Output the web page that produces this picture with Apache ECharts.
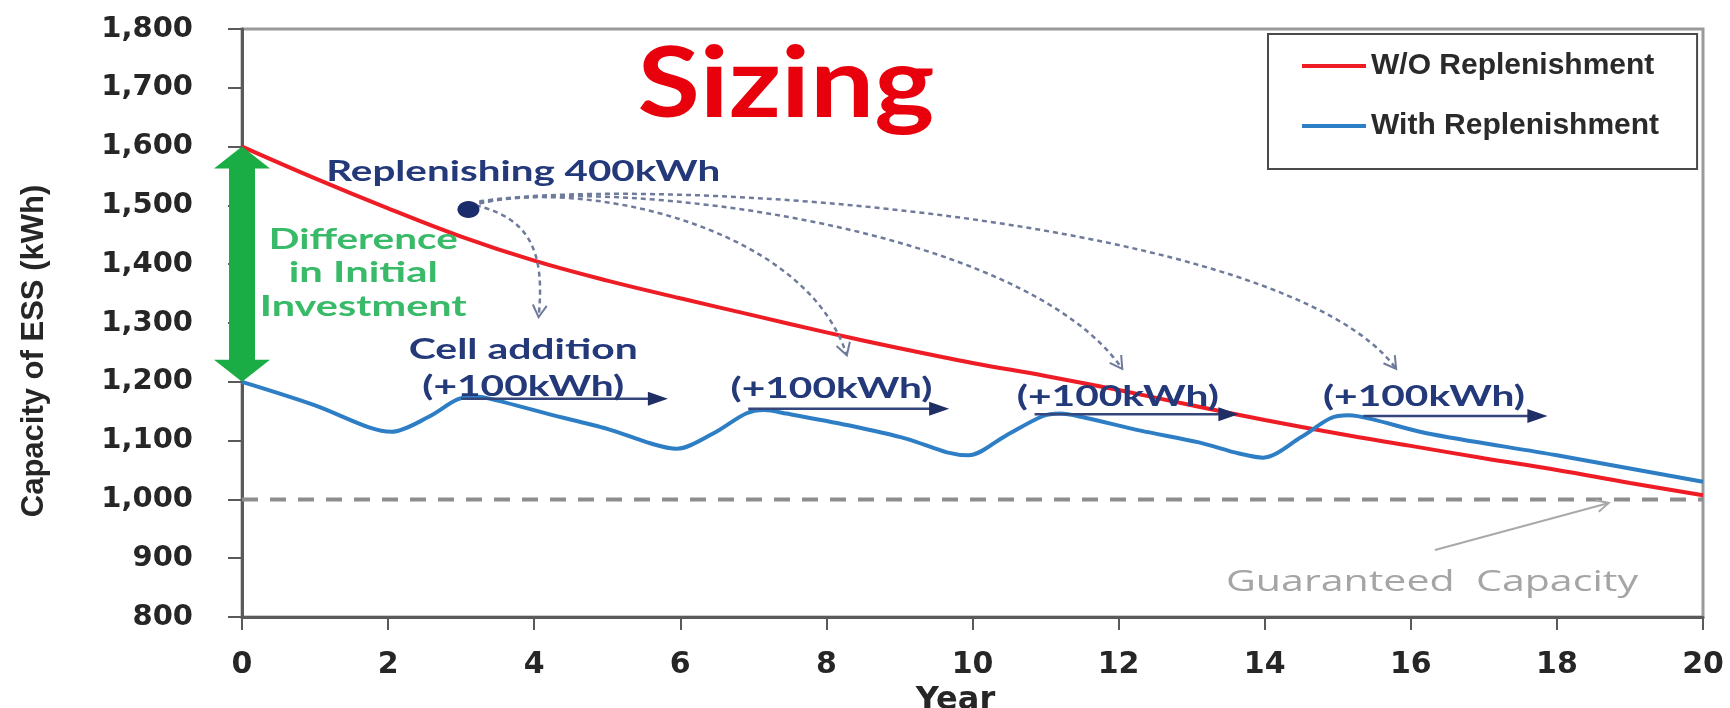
<!DOCTYPE html>
<html>
<head>
<meta charset="utf-8">
<script src="https://cdn.jsdelivr.net/npm/echarts@6/dist/echarts.min.js"></script>
<style>
html,body{margin:0;padding:0;background:#fff;}
#chart{width:1730px;height:708px;}
</style>
</head>
<body>
<div id="chart"></div>
<script>
// ---------------- data ----------------
const years = [0,1,2,3,4,5,6,7,8,9,10,11,12,13,14,15,16,17,18,19,20];
const woReplenishment = [1600,1546,1495,1447,1406,1372,1342,1313,1284,1257,1232,1210,1186,1160,1135,1112,1091,1070,1050,1028,1007];
const withYears = [0,1,1.75,2.05,2.55,2.95,3.2,3.5,4.2,5.0,5.6,5.95,6.45,6.9,7.15,7.45,8.3,9.1,9.65,9.95,10.45,10.95,11.2,11.5,12.3,13.1,13.65,13.98,14.5,14.9,15.15,15.45,16.2,18,20];
const withReplenishment = [1200,1160,1122,1115,1140,1170,1175,1168,1145,1120,1095,1086,1112,1146,1152,1146,1126,1103,1080,1075,1108,1141,1146,1140,1117,1097,1078,1071,1106,1138,1143,1137,1113,1075,1030];
const guaranteedCapacity = 1000;
const yRange = [800, 1800, 100];
const xRange = [0, 20, 2];
const seriesNames = ['W/O Replenishment', 'With Replenishment'];

// annotation anchors (data units)
const replenishDot = [3.1, 1493];
const replArrows = [
  {p0:[3.2,1500], c1:[3.95,1478], c2:[4.15,1420], p1:[4.06,1310]},
  {p0:[3.25,1503], c1:[4.6,1545], c2:[7.7,1470], p1:[8.28,1245]},
  {p0:[3.25,1505], c1:[5.2,1548], c2:[10.7,1465], p1:[12.05,1222]},
  {p0:[3.25,1507], c1:[5.8,1553], c2:[14.3,1478], p1:[15.8,1222]}
];
const addArrows = [
  {from:[3.0,1171], to:[5.83,1171]},
  {from:[6.93,1154], to:[9.68,1154]},
  {from:[10.85,1145], to:[13.64,1145]},
  {from:[15.35,1142], to:[17.87,1142]}
];
const guaranteedPointer = {from:[16.33,914], to:[18.71,994]};
const annoTexts = [
  {t:'Replenishing 400kWh', at:[3.85,1557], kind:'navy', w:394},
  {t:'Difference', at:[1.66,1441], kind:'green', w:189},
  {t:'in Initial', at:[1.66,1385], kind:'green', w:149},
  {t:'Investment', at:[1.66,1327], kind:'green', w:207},
  {t:'Cell addition', at:[3.85,1254], kind:'navy', w:229},
  {t:'(+100kWh)', at:[3.85,1192], kind:'navy', w:202},
  {t:'(+100kWh)', at:[8.07,1188], kind:'navy', w:202},
  {t:'(+100kWh)', at:[11.99,1174], kind:'navy', w:202},
  {t:'(+100kWh)', at:[16.18,1174], kind:'navy', w:202},
  {t:'Guaranteed  Capacity', at:[16.29,858], kind:'grey', w:412}
];

// ---------------- styles ----------------
const RED = '#ee1c25', BLUE = '#2e7ec5', NAVY = '#24397a', GREEN = '#1aad45';
const kindStyle = {
  navy:  {font:'bold 28px Lato', fill:NAVY},
  green: {font:'bold 28px Lato', fill:'#38ba68'},
  grey:  {font:'30px "Open Sans"', fill:'#a5a5a5'}
};
const measureCtx = document.createElement('canvas').getContext('2d');
function textWidth(t, font){ measureCtx.font = font; return measureCtx.measureText(t).width; }

function renderAnnotations(params, api){
  const C = p => api.coord(p);
  const ch = [];
  // green double arrow: difference in initial investment
  const t = C([0, woReplenishment[0]]), b = C([0, withReplenishment[0]]);
  const sw = 13, hw = 28, hl = 22, x = t[0];
  ch.push({type:'polygon', shape:{points:[
    [x, t[1]], [x+hw, t[1]+hl], [x+sw, t[1]+hl], [x+sw, b[1]-hl], [x+hw, b[1]-hl],
    [x, b[1]], [x-hw, b[1]-hl], [x-sw, b[1]-hl], [x-sw, t[1]+hl], [x-hw, t[1]+hl]
  ]}, style:{fill:GREEN}, z2:10});
  // dashed curved arrows
  replArrows.forEach(a => {
    const p0 = C(a.p0), c1 = C(a.c1), c2 = C(a.c2), p1 = C(a.p1);
    ch.push({type:'bezierCurve', shape:{x1:p0[0], y1:p0[1], cpx1:c1[0], cpy1:c1[1], cpx2:c2[0], cpy2:c2[1], x2:p1[0], y2:p1[1]},
      style:{stroke:'#6f7b9b', lineWidth:2.5, lineDash:[5,4], fill:null}});
    let dx = p1[0]-c2[0], dy = p1[1]-c2[1]; const n = Math.hypot(dx,dy); dx/=n; dy/=n;
    const L = 12, W = 7;
    ch.push({type:'polyline', shape:{points:[
      [p1[0]-L*dx-W*dy, p1[1]-L*dy+W*dx], [p1[0], p1[1]], [p1[0]-L*dx+W*dy, p1[1]-L*dy-W*dx]
    ]}, style:{stroke:'#6f7b9b', lineWidth:2, fill:null}});
  });
  // replenish dot
  const d = C(replenishDot);
  ch.push({type:'ellipse', shape:{cx:d[0], cy:d[1], rx:11, ry:8.5}, style:{fill:'#1b2d6b'}});
  // horizontal cell addition arrows
  addArrows.forEach(a => {
    const f = C(a.from), e = C(a.to);
    ch.push({type:'line', shape:{x1:f[0], y1:f[1], x2:e[0]-10, y2:e[1]}, style:{stroke:'#34467c', lineWidth:2.5}});
    ch.push({type:'polygon', shape:{points:[[e[0], e[1]], [e[0]-20, e[1]-7], [e[0]-20, e[1]+7]]}, style:{fill:'#1f2f66'}});
  });
  // guaranteed capacity pointer
  const gf = C(guaranteedPointer.from), ge = C(guaranteedPointer.to);
  ch.push({type:'line', shape:{x1:gf[0], y1:gf[1], x2:ge[0], y2:ge[1]}, style:{stroke:'#a9a9a9', lineWidth:2}});
  {
    let dx = ge[0]-gf[0], dy = ge[1]-gf[1]; const n = Math.hypot(dx,dy); dx/=n; dy/=n;
    ch.push({type:'polyline', shape:{points:[
      [ge[0]-12*dx-6*dy, ge[1]-12*dy+6*dx], [ge[0], ge[1]], [ge[0]-12*dx+6*dy, ge[1]-12*dy-6*dx]
    ]}, style:{stroke:'#a9a9a9', lineWidth:2, fill:null}});
  }
  // texts
  annoTexts.forEach(a => {
    const s = kindStyle[a.kind];
    const p = C(a.at);
    const sx = a.w / textWidth(a.t, s.font);
    ch.push({type:'text', x:p[0], y:p[1], scaleX:sx, z2:20,
      style:{text:a.t, font:s.font, fill:s.fill, align:'center', verticalAlign:'middle'}});
  });
  return {type:'group', children:ch};
}

const chart = echarts.init(document.getElementById('chart'), null, {renderer:'canvas'});
const titleFont = 'bold 98px Lato';
chart.setOption({
  animation: false,
  backgroundColor: '#fff',
  grid: {left:242, right:27, top:29, bottom:91, show:true, borderColor:'#9a9a9a', borderWidth:3, containLabel:false, outerBoundsMode:'none'},
  graphic: [{
    type:'text', x:786, y:85, scaleX: 297 / textWidth('Sizing', titleFont), z:100,
    style:{text:'Sizing', font:titleFont, fill:'#e8000c', align:'center', verticalAlign:'middle'}
  }],
  legend: {
    data: seriesNames, orient:'vertical', left:1268, top:34,
    padding:[15, 38, 26, 34], itemGap:26, itemWidth:64, itemHeight:4, icon:'rect',
    borderColor:'#4a4a4a', borderWidth:2, backgroundColor:'#fff',
    textStyle:{fontFamily:'Liberation Sans', fontWeight:'bold', fontSize:30, color:'#2a2a2a', lineHeight:34}
  },
  xAxis: {
    type:'value', min:xRange[0], max:xRange[1], interval:xRange[2],
    name:'Year', nameLocation:'middle', nameGap:66,
    nameTextStyle:{fontFamily:'DejaVu Sans', fontWeight:'bold', fontSize:32, color:'#262626', padding:[0,34,0,0]},
    axisLine:{show:true, lineStyle:{color:'#5a5a5a', width:3}},
    axisTick:{show:true, inside:false, length:13, lineStyle:{color:'#5a5a5a', width:2}},
    axisLabel:{margin:33, fontFamily:'DejaVu Sans', fontWeight:'bold', fontSize:30, color:'#262626'},
    splitLine:{show:false}
  },
  yAxis: {
    type:'value', min:yRange[0], max:yRange[1], interval:yRange[2],
    name:'Capacity of ESS (kWh)', nameLocation:'middle', nameRotate:90, nameGap:192,
    nameTextStyle:{fontFamily:'Liberation Sans', fontWeight:'bold', fontSize:31, color:'#262626', padding:[0,56,0,0]},
    axisLine:{show:true, lineStyle:{color:'#5a5a5a', width:3}},
    axisTick:{show:true, inside:false, length:14, lineStyle:{color:'#5a5a5a', width:2}},
    axisLabel:{margin:49, fontFamily:'DejaVu Sans', fontWeight:'bold', fontSize:29, color:'#262626',
      formatter: v => v.toLocaleString('en-US')},
    splitLine:{show:false}
  },
  series: [
    {
      name:'Guaranteed', type:'line', data:[[xRange[0], guaranteedCapacity],[xRange[1], guaranteedCapacity]],
      symbol:'none', lineStyle:{color:'#8d8d8d', width:4, type:[16,12]}, silent:true, z:1
    },
    {
      name:seriesNames[0], type:'line', data: years.map((y,i)=>[y, woReplenishment[i]]),
      smooth:0.4, symbol:'none', lineStyle:{color:RED, width:4}, itemStyle:{color:RED}, z:3
    },
    {
      name:seriesNames[1], type:'line', data: withYears.map((y,i)=>[y, withReplenishment[i]]),
      smooth:0.3, symbol:'none', lineStyle:{color:BLUE, width:4}, itemStyle:{color:BLUE}, z:3
    },
    {
      name:'annotations', type:'custom', data:[[0,800]], clip:false, silent:true, z:5,
      renderItem: renderAnnotations
    }
  ]
});
</script>
</body>
</html>
